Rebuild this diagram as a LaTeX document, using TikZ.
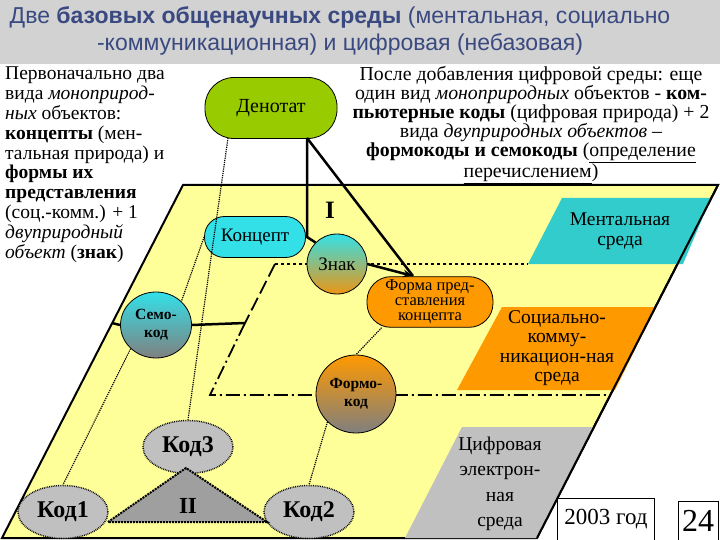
\documentclass[tikz,border=0pt]{standalone}
\usepackage{fontspec}
\setmainfont{Liberation Serif}
\newfontfamily\titlefont{Liberation Sans}
\usetikzlibrary{shapes.geometric,arrows.meta}
\definecolor{ybg}{HTML}{FFFF99}
\definecolor{grn}{HTML}{99CC00}
\definecolor{cy}{HTML}{33CCCC}
\definecolor{cya}{HTML}{33E0E8}
\definecolor{org}{HTML}{FF9900}
\definecolor{gr}{HTML}{C0C0C0}
\definecolor{ttl}{HTML}{3A4A80}
\tikzset{
 rbox/.style={draw,line width=0.8pt,rounded corners=14pt,align=center,font=\fontsize{20}{20}\selectfont},
 ell/.style={draw,line width=0.8pt,ellipse,align=center,inner sep=0pt},
 kod/.style={ell,fill=gr,densely dotted,line width=1.5pt,minimum width=90pt,minimum height=53pt,font=\bfseries\fontsize{24}{24}\selectfont},
 dotl/.style={densely dotted,line width=1.2pt},
 thick3/.style={line width=2.5pt},
 env/.style={align=center,font=\fontsize{19.5}{19.5}\selectfont}
}
\begin{document}
\begin{tikzpicture}[x=1pt,y=-1pt]
\useasboundingbox (0,0) rectangle (720,540);
\fill[white] (0,0) rectangle (720,540);
\fill[gray!35] (0,0) rectangle (720,64);
\node[text=ttl,align=center,font=\titlefont\fontsize{23}{27}\selectfont] (title) at (340,31)
 {Две \textbf{базовых общенаучных среды} (ментальная, социально\\-коммуникационная) и цифровая (небазовая)};
% big plane
\draw[fill=ybg,line width=2pt] (183,185) -- (718,185) -- (537,538) -- (2,538) -- cycle;
% sub-environments
\fill[cy] (562,198) -- (711,198) -- (683,264) -- (528,264) -- cycle;
\node[env] (ment) at (620,231) {Ментальная\\среда};
\fill[org] (502,307) -- (656,307) -- (615,390) -- (457,390) -- cycle;
\node[env] (soc) at (557,348) {Социально-\\комму-\\никацион-ная\\среда};
\fill[gr] (462,427) -- (594,427) -- (538,538) -- (405,538) -- cycle;
\node[env,font=\fontsize{19.5}{25.5}\selectfont] (dig) at (500,484) {Цифровая\\электрон-\\ная\\среда};
\draw[line width=2pt] (718,185) -- (537,538);
% dashed frames
\draw[dashed,line width=1.8pt] (275,264) -- (528,264);
\draw[dash pattern=on 14pt off 5pt,line width=1.8pt] (275,264) -- (245,323);
\draw[dash pattern=on 14pt off 4pt on 2pt off 4pt,line width=1.8pt] (245,323) -- (210,395) -- (608,395);
% nodes
\node[rbox,fill=grn,minimum width=132pt,minimum height=61pt,rounded corners=29pt] (den) at (271,108) {Денотат};
\node[rbox,fill=cya,minimum width=101pt,minimum height=41pt,rounded corners=20pt,font=\fontsize{19}{19}\selectfont] (konc) at (255,237) {Концепт};
\node[rbox,fill=org,minimum width=126pt,minimum height=50pt,rounded corners=24pt,font=\fontsize{16.5}{15}\selectfont] (forma) at (430,302) {Форма пред-\\ставления\\концепта};
\node[ell,top color=cya,bottom color=org!85!gray,minimum width=60pt,minimum height=60pt,font=\fontsize{19}{19}\selectfont] (znak) at (337,264) {Знак};
\node[ell,top color=cya,bottom color=gray,minimum width=71pt,minimum height=66pt,font=\bfseries\fontsize{15.5}{18}\selectfont] (semo) at (156,325) {Семо-\\код};
\node[ell,top color=org,bottom color=gray,minimum width=80pt,minimum height=78pt,font=\bfseries\fontsize{15.5}{18}\selectfont] (formo) at (356,394) {Формо-\\код};
\node[kod] (k3) at (188,447) {Код3};
\node[kod] (k1) at (63,512) {Код1};
\node[kod] (k2) at (309,512) {Код2};
\fill[gray!75] (108,522) -- (186,468) -- (267,522) -- cycle;
\draw[densely dotted,line width=2pt] (108,522) -- (186,468) -- (267,522) -- cycle;
\node[font=\bfseries\fontsize{23}{23}\selectfont] (II) at (188,506) {II};
\node[font=\bfseries\fontsize{25}{25}\selectfont] (I) at (330,210) {I};
% connectors
\coordinate (dtop) at (307,138);
\coordinate (fend) at (413,276);
\draw[thick3] (dtop) -- (307,237) -- (znak.north west);
\draw[thick3] (dtop) -- (fend);
\draw[thick3,-{Stealth[length=10pt]}] (znak.east) -- (fend);
\draw[thick3] (112,323) -- (semo.west);
\draw[thick3] (semo.east) -- (245,323);
\draw[dotl] (228,138) -- (k3.north);
\draw[dotl] (konc.west) -- (semo.north east);
\draw[dotl] (semo.south west) -- (k1.north);
\draw[dotl] (forma.south west) ++(15,0) -- (formo.north);
\draw[dotl] (formo.south west) -- (k2.north);
% texts
\node[anchor=north west,align=left,inner sep=0pt,font=\fontsize{19.5}{19.8}\selectfont] (left) at (5,67)
 {Первоначально два\\вида \textit{моноприрод-}\\\textit{ных} объектов:\\\textbf{концепты} (мен-\\тальная природа) и\\\textbf{формы их}\\\textbf{представления}\\(соц.-комм.) + 1\\\textit{двуприродный}\\\textit{объект} (\textbf{знак})};
\node[anchor=north,align=center,inner sep=0pt,font=\fontsize{19.8}{19}\selectfont] (right) at (531,66)
 {После добавления цифровой среды: еще\\один вид \textit{моноприродных} объектов - \textbf{ком-}\\\textbf{пьютерные коды} (цифровая природа) + 2\\вида \textit{двуприродных объектов} --\\\textbf{формокоды и семокоды} (\underline{определение}\\\underline{перечислением})};
\node[draw,fill=white,minimum width=97pt,minimum height=42pt,font=\fontsize{23}{23}\selectfont] (year) at (606,519) {2003 год};
\node[draw,fill=white,minimum width=40pt,minimum height=40pt,font=\fontsize{32}{32}\selectfont] (num) at (698,521) {24};
\end{tikzpicture}
\end{document}
